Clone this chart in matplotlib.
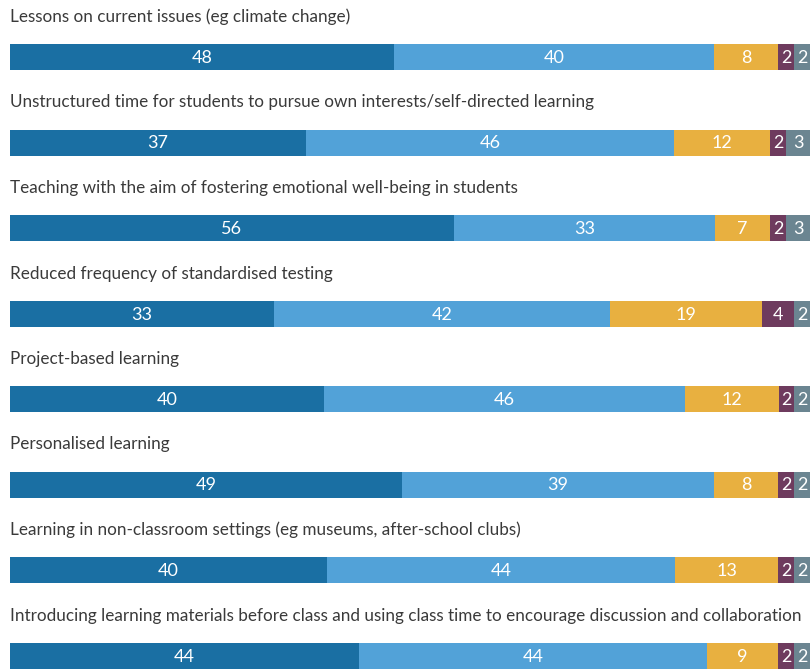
import numpy as np
import matplotlib.pyplot as plt

# --- data ---
statements = [
    "Lessons on current issues (eg climate change)",
    "Unstructured time for students to pursue own interests/self-directed learning",
    "Teaching with the aim of fostering emotional well-being in students",
    "Reduced frequency of standardised testing",
    "Project-based learning",
    "Personalised learning",
    "Learning in non-classroom settings (eg museums, after-school clubs)",
    "Introducing learning materials before class and using class time to encourage discussion and collaboration",
]
strongly_agree = [48, 37, 56, 33, 40, 49, 40, 44]
agree = [40, 46, 33, 42, 46, 39, 44, 44]
neutral = [8, 12, 7, 19, 12, 8, 13, 9]
disagree = [2, 2, 2, 4, 2, 2, 2, 2]
strongly_disagree = [2, 3, 3, 2, 2, 2, 2, 2]

series = [strongly_agree, agree, neutral, disagree, strongly_disagree]
colors = ["#1a6fa3", "#52a2d8", "#e8b040", "#6e3b5e", "#6b8591"]

plt.rcParams["font.family"] = ["Lato", "DejaVu Sans"]

W, H = 810, 669
fig = plt.figure(figsize=(W / 100, H / 100), dpi=100)
ax = fig.add_axes([0, 0, 1, 1])
ax.set_xlim(-10 / 8, 100)
ax.set_ylim(H, 0)
ax.axis("off")

row_step = 85.5
bar_top0 = 44
bar_h = 26

vals = np.array(series, dtype=float)
totals = vals.sum(axis=0)
shares = vals / totals * 100

for i, label in enumerate(statements):
    y = bar_top0 + i * row_step + bar_h / 2
    ax.text(0, bar_top0 + i * row_step - 27, label, ha="left", va="center",
            fontsize=12.3, color="#3a3a3a")
    left = 0.0
    for s, col in enumerate(colors):
        w = shares[s, i]
        ax.barh(y, w, left=left, height=bar_h, color=col, linewidth=0)
        ax.text(left + w / 2, y + 1, f"{series[s][i]}", ha="center", va="center",
                fontsize=13, color="white")
        left += w

fig.savefig("out.png", dpi=100)
